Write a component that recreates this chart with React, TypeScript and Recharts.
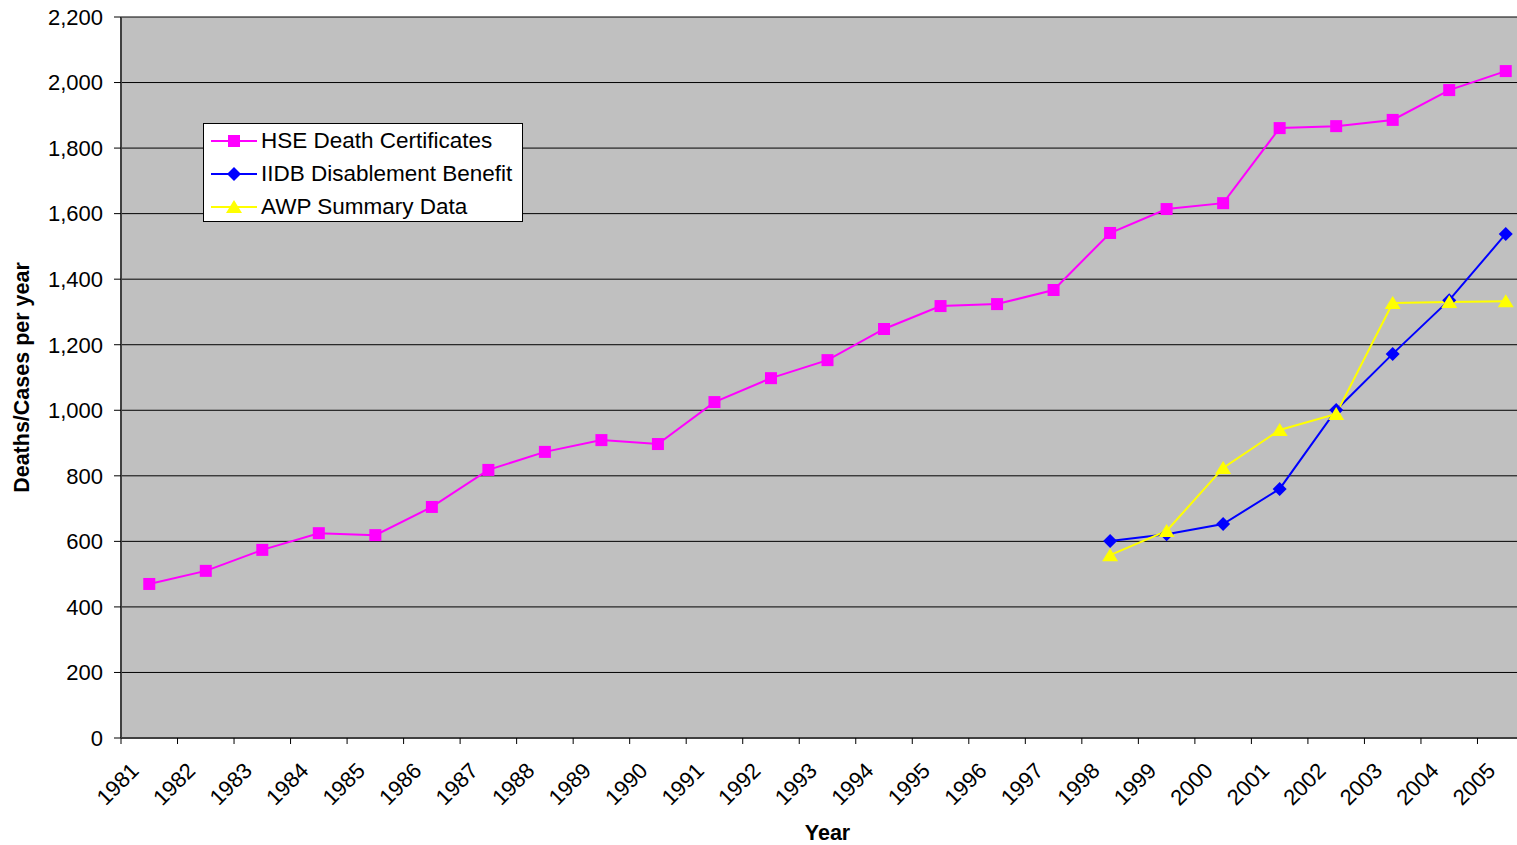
import React from "react";
import {
  LineChart, Line, XAxis, YAxis, CartesianGrid, Legend,
} from "recharts";

const YEARS = [
  "1981", "1982", "1983", "1984", "1985", "1986", "1987", "1988", "1989",
  "1990", "1991", "1992", "1993", "1994", "1995", "1996", "1997", "1998",
  "1999", "2000", "2001", "2002", "2003", "2004", "2005",
];

const HSE = [
  470, 510, 574, 625, 619, 705, 818, 873, 909, 897, 1025, 1098, 1153,
  1248, 1318, 1324, 1367, 1541, 1614, 1632, 1861, 1867, 1886, 1977, 2035,
];

// IIDB and AWP only start in 1998
const IIDB = [601, 622, 653, 760, 1001, 1172, 1336, 1538];
const AWP = [558, 632, 824, 940, 989, 1327, 1330, 1333];

const Y_TICKS = [0, 200, 400, 600, 800, 1000, 1200, 1400, 1600, 1800, 2000, 2200];

const FONT = "'Liberation Sans', Arial, sans-serif";
const W = 1534;
const H = 845;
const M = { top: 17, right: 0, left: 0, bottom: 7 };
const Y_W = 121;
const PLOT_W = W - M.left - M.right - Y_W;
const STEP = PLOT_W / YEARS.length;

const startIdx = YEARS.indexOf("1998");
const data = YEARS.map((year, i) => ({
  year,
  hse: HSE[i],
  iidb: i >= startIdx ? IIDB[i - startIdx] : null,
  awp: i >= startIdx ? AWP[i - startIdx] : null,
}));

const fmt = (v: number) => v.toLocaleString("en-US");

function Square(p: any) {
  if (p.cx == null || p.cy == null) return <g key={p.index} />;
  return <rect key={p.index} x={p.cx - 6} y={p.cy - 6} width={12} height={12} fill="#FF00FF" />;
}

function Diamond(p: any) {
  if (p.cx == null || p.cy == null) return <g key={p.index} />;
  const r = 7;
  return (
    <polygon key={p.index} fill="#0000FF"
      points={`${p.cx},${p.cy - r} ${p.cx + r},${p.cy} ${p.cx},${p.cy + r} ${p.cx - r},${p.cy}`} />
  );
}

function Triangle(p: any) {
  if (p.cx == null || p.cy == null) return <g key={p.index} />;
  return (
    <polygon key={p.index} fill="#FFFF00"
      points={`${p.cx},${p.cy - 7} ${p.cx + 8},${p.cy + 6} ${p.cx - 8},${p.cy + 6}`} />
  );
}

const SERIES = [
  { key: "hse", name: "HSE Death Certificates", color: "#FF00FF", Dot: Square },
  { key: "iidb", name: "IIDB Disablement Benefit", color: "#0000FF", Dot: Diamond },
  { key: "awp", name: "AWP Summary Data", color: "#FFFF00", Dot: Triangle },
];

function YearTick({ x, y, payload }: any) {
  const bx = x - STEP / 2;
  return (
    <g>
      <line x1={bx} y1={y} x2={bx} y2={y + 6} stroke="#000" strokeWidth={1} />
      <text
        x={x - 9} y={y + 34}
        transform={`rotate(-45, ${x - 9}, ${y + 34})`}
        textAnchor="end"
        fontSize={22}
        fontFamily={FONT}
        fill="#000"
      >
        {payload.value}
      </text>
    </g>
  );
}

function LegendBox() {
  return (
    <div
      style={{
        background: "#fff",
        border: "1px solid #000",
        width: 318,
        height: 97,
        boxSizing: "content-box",
        fontFamily: FONT,
        fontSize: 22.5,
        color: "#000",
        paddingTop: 0,
      }}
    >
      {SERIES.map((s) => (
        <div key={s.key} style={{ display: "flex", alignItems: "center", height: 33 }}>
          <svg width={57} height={20} style={{ display: "block" }}>
            <line x1={7} y1={10} x2={53} y2={10} stroke={s.color} strokeWidth={2} />
            <s.Dot cx={30} cy={10} index={0} />
          </svg>
          <span style={{ whiteSpace: "nowrap", lineHeight: "22px" }}>{s.name}</span>
        </div>
      ))}
    </div>
  );
}

export default function App() {
  return (
    <div style={{ position: "fixed", left: 0, top: 0, width: 1517, height: 845, overflow: "hidden", background: "#fff" }}>
      <LineChart width={W} height={H} data={data} margin={M}>
        <CartesianGrid vertical={false} fill="#C0C0C0" stroke="#000" />
        <XAxis
          dataKey="year"
          height={100}
          padding={{ left: STEP / 2, right: STEP / 2 }}
          tickSize={0}
          tickMargin={0}
          tickLine={false}
          tick={<YearTick />}
          interval={0}
          axisLine={{ stroke: "#404040", strokeWidth: 2 }}
          label={{
            content: ({ viewBox }: any) => (
              <text
                x={viewBox.x + viewBox.width / 2}
                y={viewBox.y + 102}
                textAnchor="middle"
                fontSize={21.5}
                fontWeight="bold"
                fontFamily={FONT}
                fill="#000"
              >
                Year
              </text>
            ),
          }}
        />
        <YAxis
          width={Y_W}
          domain={[0, 2200]}
          ticks={Y_TICKS}
          interval={0}
          tickFormatter={fmt}
          tickSize={7}
          tickMargin={11}
          tickLine={{ stroke: "#000" }}
          axisLine={{ stroke: "#404040", strokeWidth: 2 }}
          tick={{ fontSize: 22, fill: "#000", fontFamily: FONT }}
          label={{
            content: ({ viewBox }: any) => {
              const cx = viewBox.x + 29;
              const cy = viewBox.y + viewBox.height / 2;
              return (
                <text
                  x={cx} y={cy}
                  transform={`rotate(-90, ${cx}, ${cy})`}
                  textAnchor="middle"
                  fontSize={21.5}
                  fontWeight="bold"
                  fontFamily={FONT}
                  fill="#000"
                >
                  Deaths/Cases per year
                </text>
              );
            },
          }}
        />
        <Legend
          layout="horizontal"
          verticalAlign="middle"
          align="center"
          content={() => <LegendBox />}
          wrapperStyle={{ left: 203, top: 123, width: 320, height: 99 }}
        />
        {SERIES.map((s) => (
          <Line
            key={s.key}
            type="linear"
            dataKey={s.key}
            name={s.name}
            stroke={s.color}
            strokeWidth={2}
            dot={(p: any) => <s.Dot {...p} key={p.index} />}
            activeDot={false}
            connectNulls={false}
            isAnimationActive={false}
          />
        ))}
      </LineChart>
    </div>
  );
}
